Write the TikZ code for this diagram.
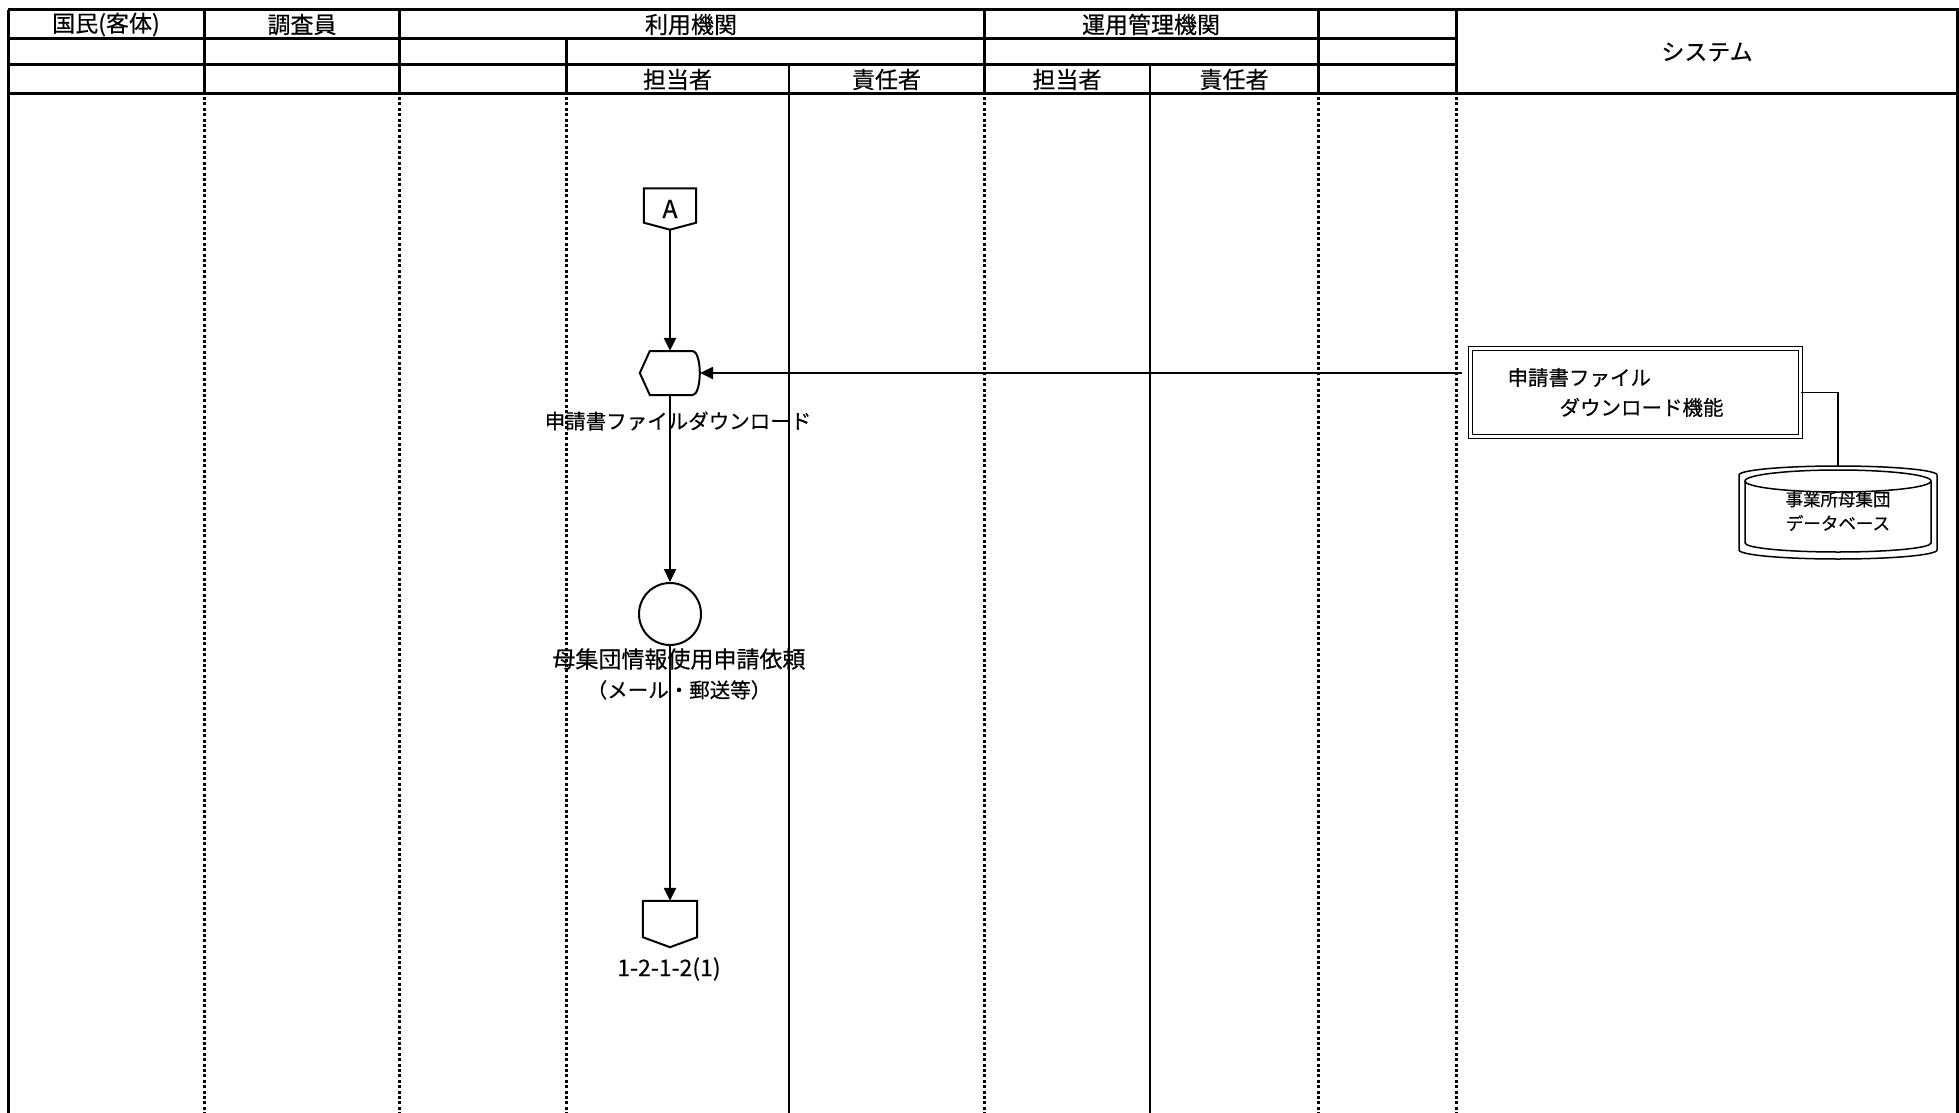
\documentclass[tikz,border=0pt]{standalone}
\usepackage{fontspec}
\setmainfont{Noto Sans CJK JP}[FakeBold=0.4]
\usetikzlibrary{arrows.meta}

\begin{document}
\begin{tikzpicture}[x=1pt, y=-1pt,
  frame/.style = {line width=3pt},
  thinlane/.style = {line width=1.2pt},
  dotlane/.style = {line width=3pt, dash pattern=on 3pt off 2.4pt},
  head/.style = {font=\fontsize{23}{26}\selectfont, inner sep=0pt},
  lbl/.style = {font=\fontsize{20.5}{30}\selectfont, align=center, inner sep=0pt},
  hold/.style = {rectangle, inner sep=0pt},
  shp/.style = {line width=2pt},
  flow/.style = {line width=2.4pt, -{Triangle[length=13pt, width=12pt]}},
  link/.style = {line width=1.4pt},
]

\useasboundingbox (0,0) rectangle (1959,1113);

\draw[frame] (8,10) -- (1957,10) -- (1957,1113);
\draw[frame] (8,10) -- (8,1113);
\draw[frame] (8,39) -- (1456,39);
\draw[frame] (8,65) -- (1456,65);
\draw[frame] (8,94) -- (1957,94);
\draw[frame] (204,10) -- (204,94);
\draw[frame] (399,10) -- (399,94);
\draw[frame] (566,39) -- (566,94);
\draw[frame] (984,10) -- (984,94);
\draw[frame] (1318,10) -- (1318,94);
\draw[frame] (1456,10) -- (1456,94);
\draw[thinlane] (789,65) -- (789,1113);
\draw[thinlane] (1150,65) -- (1150,1113);

\draw[dotlane] (204,97) -- (204,1113);
\draw[dotlane] (399,97) -- (399,1113);
\draw[dotlane] (566,97) -- (566,1113);
\draw[dotlane] (984,97) -- (984,1113);
\draw[dotlane] (1318,97) -- (1318,1113);
\draw[dotlane] (1456,97) -- (1456,1113);

\node[head] (kokumin) at (106,24.5) {国民(客体)};
\node[head] (chosa) at (302,24.5) {調査員};
\node[head] (riyo) at (691,24.5) {利用機関};
\node[head] (unyo) at (1151,24.5) {運用管理機関};
\node[head] (system) at (1707,52) {システム};
\node[head] (riyotan) at (677.5,79.5) {担当者};
\node[head] (riyosek) at (886.5,79.5) {責任者};
\node[head] (unyotan) at (1067,79.5) {担当者};
\node[head] (unyosek) at (1234,79.5) {責任者};

\node[hold, minimum width=52pt, minimum height=41pt, font=\fontsize{25}{25}\selectfont] (offA) at (670,209) {A};
\draw[shp] (offA.north west) -- (offA.north east) -- ([yshift=7pt]offA.south east) -- (offA.south) -- ([yshift=7pt]offA.south west) -- cycle;

\node[hold, minimum width=60pt, minimum height=44pt] (dl) at (670,373) {};
\draw[shp] (dl.west) -- ++(10,-22) -- ++(43,0) arc[start angle=-90, end angle=90, x radius=7, y radius=22] -- ++(-43,0) -- cycle;
\node[lbl] (dllbl) at (678,421) {申請書ファイルダウンロード};

\node[circle, draw, shp, minimum size=62pt, inner sep=0pt] (req) at (670,614) {};
\node[lbl] (reqlbl) at (679,674) {{\fontsize{23}{30}\selectfont 母集団情報使用申請依頼}\\（メール・郵送等）};

\node[hold, minimum width=54pt, minimum height=46pt] (offB) at (670,924) {};
\draw[shp] (offB.north west) -- (offB.north east) -- ([yshift=10pt]offB.south east) -- (offB.south) -- ([yshift=10pt]offB.south west) -- cycle;
\node[lbl, font=\fontsize{23}{30}\selectfont] (offBlbl) at (669,969) {1-2-1-2(1)};

\node[draw, double, double distance=2.5pt, line width=1.5pt, minimum width=330pt, minimum height=88pt,
  text width=256pt, inner xsep=37pt, inner ysep=0pt, align=left, font=\fontsize{20.5}{30}\selectfont]
  (sysbox) at (1635.5,392.5) {申請書ファイル\\\hspace*{52pt}ダウンロード機能};
\coordinate (dlsrc) at (1462,373);

\draw[link] (sysbox.east) -| (1838,470);
\draw[shp, fill=white, line width=1.5pt] (1739,475) arc[start angle=180, end angle=360, x radius=99, y radius=9] -- (1937,550) arc[start angle=0, end angle=180, x radius=99, y radius=9] -- cycle;
\draw[shp, fill=white, line width=1.5pt] (1745,481) -- (1745,543) arc[start angle=180, end angle=0, x radius=93, y radius=9] -- (1931,481);
\draw[shp, line width=1.5pt] (1838,481) ellipse[x radius=93, y radius=11];
\node[hold, minimum width=186pt, minimum height=82pt, align=center, font=\fontsize{17.5}{24}\selectfont] (db) at (1838,511) {事業所母集団\\データベース};

\draw[flow] (offA.south) -- (dl.north);
\draw[flow] (dlsrc) -- (dl.east);
\draw[flow] (dl.south) -- (req.north);
\draw[flow] (req.south) -- (offB.north);

\end{tikzpicture}
\end{document}
